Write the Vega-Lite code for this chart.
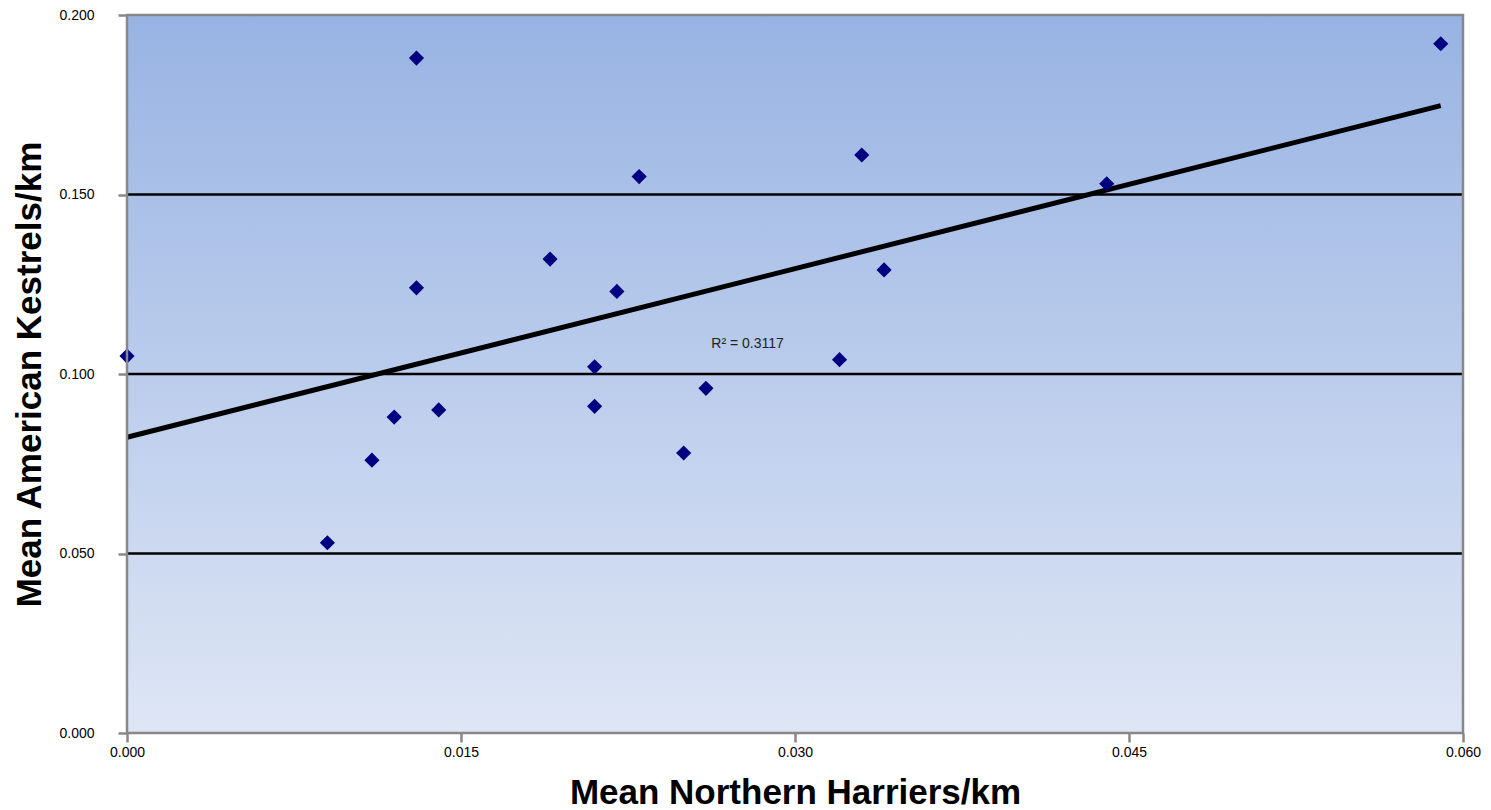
{
  "$schema": "https://vega.github.io/schema/vega-lite/v6.json",
  "width": 1336,
  "height": 718,
  "autosize": {"type": "none"},
  "padding": {"left": 127, "top": 15, "right": 28, "bottom": 77},
  "background": "white",
  "config": {
    "font": "Liberation Sans",
    "view": {"stroke": null},
    "axis": {
      "domain": false,
      "grid": false,
      "labelFlush": false,
      "tickColor": "#888888",
      "tickWidth": 2.5,
      "tickSize": 9,
      "labelFont": "Liberation Sans",
      "labelFontSize": 14,
      "labelColor": "#000000",
      "titleFont": "Liberation Sans",
      "titleFontSize": 35,
      "titleFontWeight": "bold",
      "titleColor": "#000000"
    }
  },
  "datasets": {
    "points": [
      {"nh": 0.000, "ak": 0.105},
      {"nh": 0.009, "ak": 0.053},
      {"nh": 0.011, "ak": 0.076},
      {"nh": 0.012, "ak": 0.088},
      {"nh": 0.013, "ak": 0.188},
      {"nh": 0.013, "ak": 0.124},
      {"nh": 0.014, "ak": 0.090},
      {"nh": 0.019, "ak": 0.132},
      {"nh": 0.021, "ak": 0.102},
      {"nh": 0.021, "ak": 0.091},
      {"nh": 0.022, "ak": 0.123},
      {"nh": 0.023, "ak": 0.155},
      {"nh": 0.025, "ak": 0.078},
      {"nh": 0.026, "ak": 0.096},
      {"nh": 0.032, "ak": 0.104},
      {"nh": 0.033, "ak": 0.161},
      {"nh": 0.034, "ak": 0.129},
      {"nh": 0.044, "ak": 0.153},
      {"nh": 0.059, "ak": 0.192}
    ],
    "frame": [{"x0": 0, "x1": 0.06, "y0": 0, "y1": 0.2}],
    "grid": [{"g": 0.05}, {"g": 0.1}, {"g": 0.15}],
    "label": [{"lx": 0.02787, "ly": 0.1072, "text": "R² = 0.3117"}]
  },
  "layer": [
    {
      "data": {"name": "frame"},
      "mark": {
        "type": "rect",
        "fill": {
          "gradient": "linear",
          "x1": 0, "y1": 0, "x2": 0, "y2": 1,
          "stops": [
            {"offset": 0, "color": "#98b3e3"},
            {"offset": 1, "color": "#dee6f5"}
          ]
        }
      },
      "encoding": {
        "x": {
          "field": "x0", "type": "quantitative",
          "scale": {"domain": [0, 0.06], "nice": false, "zero": false},
          "axis": {
            "title": "Mean Northern Harriers/km",
            "values": [0, 0.015, 0.03, 0.045, 0.06],
            "format": ".3f",
            "labelPadding": 3,
            "titleX": 668,
            "titleY": 70,
            "titleBaseline": "alphabetic",
            "titleAlign": "center"
          }
        },
        "x2": {"field": "x1"},
        "y": {
          "field": "y0", "type": "quantitative",
          "scale": {"domain": [0, 0.2], "nice": false, "zero": false},
          "axis": {
            "title": "Mean American Kestrels/km",
            "values": [0, 0.05, 0.1, 0.15, 0.2],
            "format": ".3f",
            "labelPadding": 24,
            "titleX": -87,
            "titleY": 359,
            "titleAngle": 270,
            "titleBaseline": "alphabetic",
            "titleAlign": "center"
          }
        },
        "y2": {"field": "y1"}
      }
    },
    {
      "data": {"name": "grid"},
      "mark": {"type": "rule", "color": "#000000", "strokeWidth": 2.5},
      "encoding": {
        "y": {"field": "g", "type": "quantitative"}
      }
    },
    {
      "data": {"name": "points"},
      "transform": [{"regression": "ak", "on": "nh", "extent": [0, 0.059]}],
      "mark": {"type": "line", "color": "#000000", "strokeWidth": 5},
      "encoding": {
        "x": {"field": "nh", "type": "quantitative"},
        "y": {"field": "ak", "type": "quantitative"}
      }
    },
    {
      "data": {"name": "points"},
      "mark": {"type": "point", "shape": "diamond", "filled": true, "size": 230, "color": "#000080", "opacity": 1},
      "encoding": {
        "x": {"field": "nh", "type": "quantitative"},
        "y": {"field": "ak", "type": "quantitative"}
      }
    },
    {
      "data": {"name": "label"},
      "mark": {"type": "text", "fontSize": 14, "color": "#222222", "align": "center", "baseline": "alphabetic"},
      "encoding": {
        "x": {"field": "lx", "type": "quantitative"},
        "y": {"field": "ly", "type": "quantitative"},
        "text": {"field": "text"}
      }
    },
    {
      "data": {"name": "frame"},
      "mark": {"type": "rect", "fill": null, "stroke": "#888888", "strokeWidth": 2.5},
      "encoding": {
        "x": {"field": "x0", "type": "quantitative"},
        "x2": {"field": "x1"},
        "y": {"field": "y0", "type": "quantitative"},
        "y2": {"field": "y1"}
      }
    }
  ]
}
